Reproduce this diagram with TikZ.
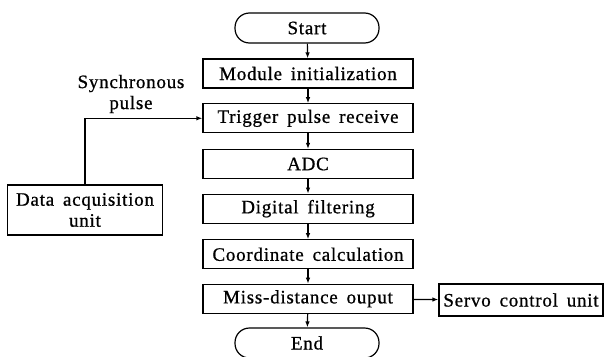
\documentclass[tikz,border=0pt]{standalone}
\usepackage{fontspec}
\setmainfont{Liberation Serif}[LetterSpace=4,WordSpace=1.6,FakeBold=0.8]
\usetikzlibrary{arrows.meta}
\begin{document}
\begin{tikzpicture}[x=1pt,y=-1pt,
  every node/.style={font=\fontsize{19}{21}\selectfont, inner sep=0pt, align=center},
  box/.style={draw, line width=1.2pt, minimum width=210pt, minimum height=29pt},
  term/.style={draw, line width=1.2pt, rounded corners=14.5pt, minimum width=144pt, minimum height=30pt},
  side/.style={draw, line width=1.2pt},
  conn/.style={line width=1.2pt, -{Latex[length=6pt,width=4.5pt]}}]
\useasboundingbox (0,0) rectangle (604,356);
\node[term] (start) at (307,28) {Start};
\node[box] (mod) at (308,73.5) {Module initialization};
\node[box] (trig) at (308,118.3) {Trigger pulse receive};
\node[box] (adc) at (308,164) {ADC};
\node[box] (dig) at (308,208.7) {Digital filtering};
\node[box] (coord) at (308,254.3) {Coordinate calculation};
\node[box] (miss) at (308,298.8) {Miss-distance ouput};
\node[term] (end) at (307,343) {End};
\node[side, minimum width=155pt, minimum height=50pt] (daq) at (85,210) {Data acquisition\\unit};
\node[side, minimum width=164pt, minimum height=32pt] (servo) at (521,300) {Servo control unit};
\node (sync) at (131,94) {Synchronous\\pulse};
\draw[conn] (start) -- (mod);
\draw[conn] (mod) -- (trig);
\draw[conn] (trig) -- (adc);
\draw[conn] (adc) -- (dig);
\draw[conn] (dig) -- (coord);
\draw[conn] (coord) -- (miss);
\draw[conn] (miss) -- (end);
\draw[conn] (miss) -- (servo);
\draw[conn] (daq.north) |- (trig.west);
\end{tikzpicture}
\end{document}
